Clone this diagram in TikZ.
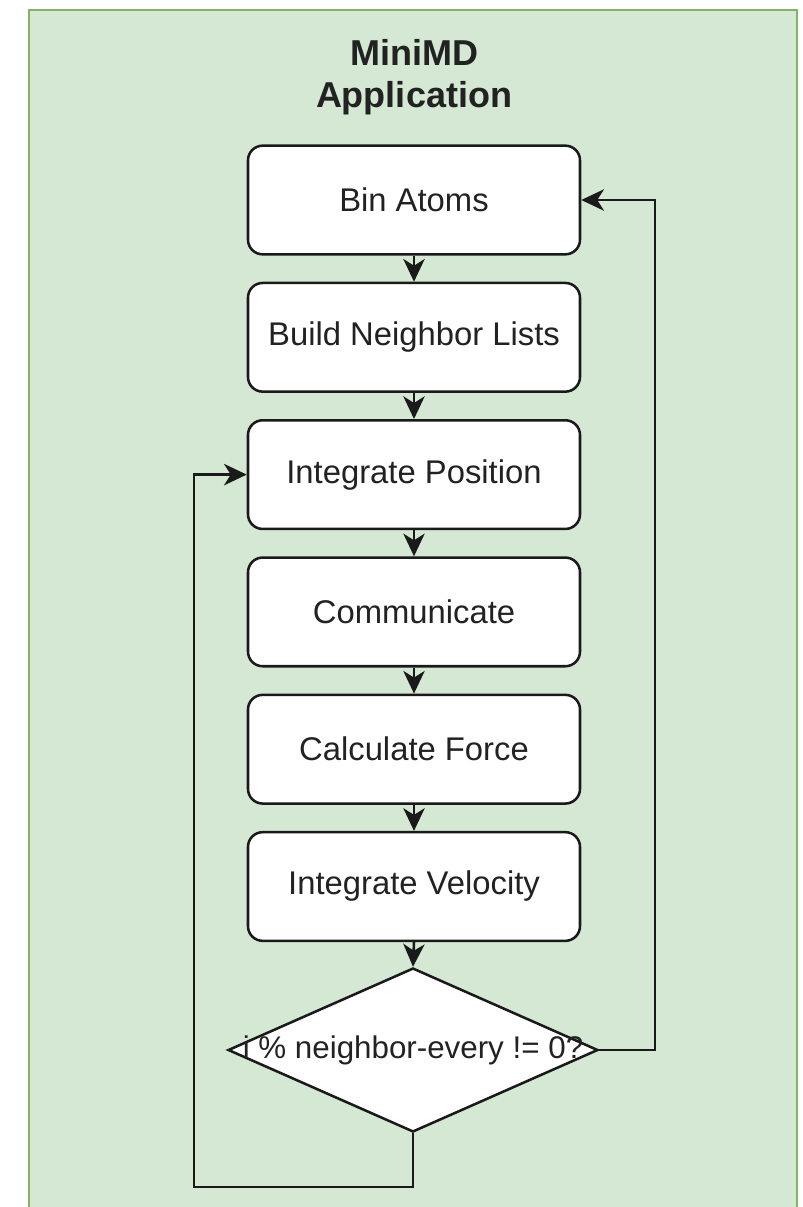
\documentclass[tikz,border=0pt]{standalone}
\usepackage{fontspec}
\setmainfont{Liberation Sans}
\usetikzlibrary{arrows.meta,shapes.geometric}

\definecolor{panelfill}{HTML}{D5E8D4}
\definecolor{panelline}{HTML}{82B366}
\definecolor{inkline}{HTML}{1A1A1A}
\definecolor{inktext}{HTML}{222222}

\tikzset{
  stepbox/.style={draw=inkline, fill=white, line width=1.9pt, rounded corners=11pt,
    minimum width=249pt, minimum height=81.5pt, inner sep=0pt, text=inktext,
    font=\fontsize{24.6}{29}\selectfont},
  decision/.style={draw=inkline, fill=white, line width=1.9pt, diamond, inner sep=0pt,
    minimum width=277.5pt, minimum height=123pt},
  decisiontext/.style={inner sep=0pt, text=inktext, font=\fontsize{23.5}{27}\selectfont},
  flow/.style={draw=inkline, line width=1.9pt,
    -{Stealth[length=17pt,width=16pt,inset=5pt]}},
  titletext/.style={font=\fontsize{27}{31.5}\selectfont\bfseries, inner sep=0pt, text=inktext}
}

\begin{document}
\begin{tikzpicture}[x=0.75pt,y=-0.75pt]
  % page frame and background panel
  \useasboundingbox (0,0) rectangle (803,1207);
  \fill[white] (0,0) rectangle (803,1207);
  \begin{scope}
    \clip (0,0) rectangle (803,1207);
    \draw[fill=panelfill, draw=panelline, line width=2pt] (29,10) rectangle (797,1230);
  \end{scope}

  % title
  \node[titletext, anchor=base] (title1) at (414,65) {MiniMD};
  \node[titletext, anchor=base] (title2) at (414,107) {Application};

  % process steps
  \node[stepbox] (bin)   at (414,200)   {Bin Atoms};
  \node[stepbox] (build) at (414,337.3) {Build Neighbor Lists};
  \node[stepbox] (ipos)  at (414,474.6) {Integrate Position};
  \node[stepbox] (comm)  at (414,611.9) {Communicate};
  \node[stepbox] (force) at (414,749.2) {Calculate Force};
  \node[stepbox] (ivel)  at (414,886.5) {Integrate Velocity};

  % loop test: the diamond, with its label set on top
  \node[decision] (test) at (413,1050) {};
  \node[decisiontext] (testlabel) at (test.center) {i \% neighbor-every != 0?};

  % corner points of the two loops
  \coordinate (rtop) at (655,200);
  \coordinate (lbot) at (194,1187);

  % straight flow
  \draw[flow] (bin) -- (build);
  \draw[flow] (build) -- (ipos);
  \draw[flow] (ipos) -- (comm);
  \draw[flow] (comm) -- (force);
  \draw[flow] (force) -- (ivel);
  \draw[flow] (ivel.south) -- (test.north);

  % rebuild loop back to binning
  \draw[flow] (test.east) -| (rtop) -- (bin.east);
  % inner loop back to position update
  \draw[flow] (test.south) |- (lbot) |- (ipos.west);
\end{tikzpicture}
\end{document}
